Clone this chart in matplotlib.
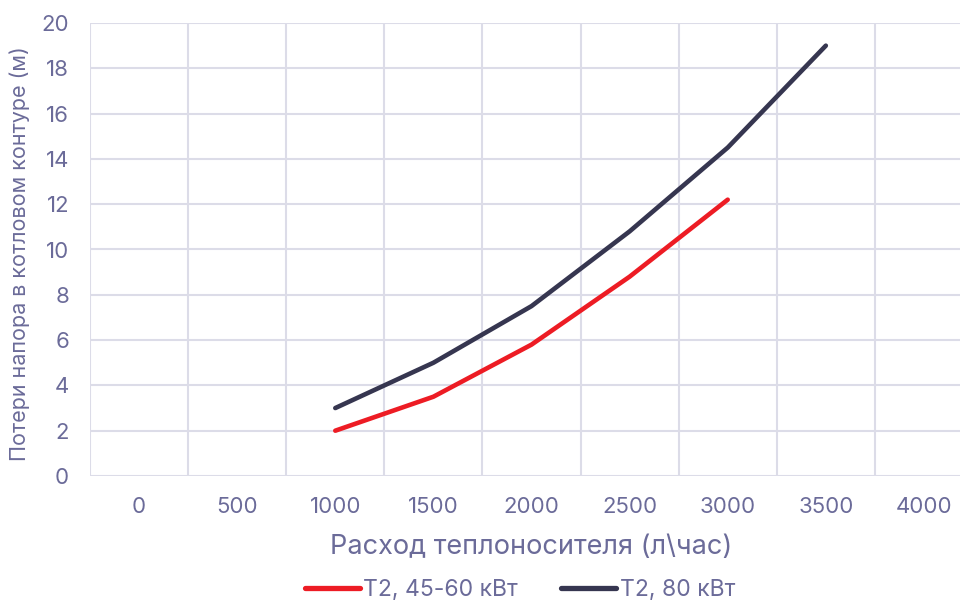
import numpy as np
import matplotlib
matplotlib.use('Agg')
import matplotlib.pyplot as plt

categories = ['0', '500', '1000', '1500', '2000', '2500', '3000', '3500', '4000']
flow_small = ['1000', '1500', '2000', '2500', '3000']
loss_small = [2.0, 3.5, 5.8, 8.8, 12.2]
flow_big = ['1000', '1500', '2000', '2500', '3000', '3500']
loss_big = [3.0, 5.0, 7.5, 10.8, 14.5, 19.0]

TXT = '#6b6b99'
GRID = '#dcdce8'

plt.rcParams['font.family'] = ['Inter', 'DejaVu Sans']

fig = plt.figure(figsize=(9.6, 6), dpi=100)
ax = fig.add_axes([90/960, 1 - 476/600, 883/960, 453/600])

pos = {c: i for i, c in enumerate(categories)}
ax.plot([pos[c] for c in flow_small], loss_small, color='#ed1c24', lw=3.3,
        solid_capstyle='round', solid_joinstyle='round', label='Т2, 45-60 кВт', zorder=3)
ax.plot([pos[c] for c in flow_big], loss_big, color='#363650', lw=3.3,
        solid_capstyle='round', solid_joinstyle='round', label='Т2, 80 кВт', zorder=3)

ax.set_xlim(-0.5, len(categories) - 0.5)
ax.set_ylim(0, 20)
ax.set_xticks(range(len(categories)))
ax.set_xticklabels(categories)
ax.set_xticks(np.arange(-0.5, len(categories)), minor=True)
ax.set_yticks(range(0, 21, 2))
ax.tick_params(axis='both', which='both', length=0, labelsize=16, colors=TXT)
ax.tick_params(axis='x', pad=15)
ax.tick_params(axis='y', pad=15)
ax.grid(False)
ax.grid(True, axis='x', which='minor', color=GRID, lw=1.5)
ax.grid(True, axis='y', which='major', color=GRID, lw=1.5)
ax.set_axisbelow(True)
for s in ax.spines.values():
    s.set_visible(False)

ax.set_xlabel('Расход теплоносителя (л\\час)', fontsize=19.5, color=TXT)
ax.xaxis.set_label_coords(0.5, -0.128)
ax.set_ylabel('Потери напора в котловом контуре (м)', fontsize=15.5, color=TXT)
ax.yaxis.set_label_coords(-0.068, 0.49)

fig.legend(loc='center', bbox_to_anchor=(520/960, 1 - 590/600), ncol=2, frameon=False,
           fontsize=16.5, handlelength=2.4, handletextpad=0.15, columnspacing=1.9,
           labelcolor=TXT)
for h in fig.legends[0].get_lines():
    h.set_linewidth(3.8)

fig.savefig('out.png', dpi=100)
